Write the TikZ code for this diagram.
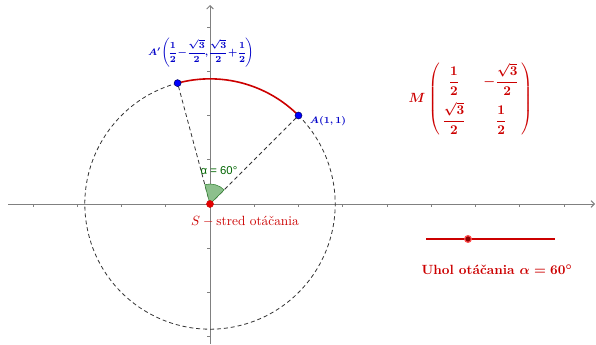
\documentclass[tikz,border=0pt]{standalone}
\usepackage{amsmath}
\usepackage{fontspec}
\newfontfamily\labelsans{Liberation Sans}
\usetikzlibrary{arrows.meta}
\definecolor{geored}{RGB}{204,0,0}
\definecolor{geoblue}{RGB}{0,0,255}
\definecolor{labelblue}{RGB}{0,0,200}
\definecolor{axisgray}{RGB}{128,128,128}
\definecolor{darkgreen}{RGB}{0,100,0}
\definecolor{anglefill}{RGB}{140,192,140}
\definecolor{darkred}{RGB}{140,0,0}
\tikzset{
  axis/.style={draw=axisgray, line width=0.7pt},
  tick/.style={draw=axisgray, line width=0.6pt},
  dashline/.style={draw=black!80, line width=0.6pt, dash pattern=on 3pt off 2.2pt},
  redarc/.style={draw=geored, line width=1.2pt},
  bluept/.style={circle, fill=geoblue, draw=black!60!blue, line width=0.4pt, inner sep=0pt, minimum size=5.2pt},
  redpt/.style={circle, fill=red!90!black, draw=geored, line width=0.4pt, inner sep=0pt, minimum size=5.2pt},
  sliderpt/.style={circle, fill=darkred, draw=red!70, line width=0.9pt, inner sep=0pt, minimum size=5pt},
  bluelabel/.style={text=labelblue, font=\fontsize{7.3}{8}\selectfont\boldmath\bfseries, inner sep=0pt},
  redlabel/.style={text=geored, inner sep=0pt},
  anglelabel/.style={text=darkgreen, font=\labelsans\fontsize{8.5}{10}\selectfont, inner sep=0pt}
}
\begin{document}
\begin{tikzpicture}[x=0.75pt,y=0.75pt]
\useasboundingbox (0,0) rectangle (596,344);
% axes
\coordinate (xl) at (8,140);
\coordinate (xr) at (595,140);
\coordinate (yb) at (210,0);
\coordinate (yt) at (210,339);
\draw[axis,-{Straight Barb[length=2.5pt,width=5pt]}] (xl) -- (xr);
\draw[axis,-{Straight Barb[length=2.5pt,width=5pt]}] (yb) -- (yt);
\foreach \i in {-4,-3,-2,-1,1,2,3,4,5,6,7,8}
  \draw[tick] (210+44.25*\i,140) -- ++(0,-3);
\foreach \j in {-3,-2,-1,1,2,3,4}
  \draw[tick] (210,140+44.25*\j) -- ++(-3,0);
% key points
\coordinate (S) at (210,140);
\coordinate (Ac) at (298.5,228.5);
\coordinate (Apc) at (177.6,260.9);
% dashed circle and segments
\draw[dashline] (Apc) arc[start angle=105, end angle=405, radius=125.16];
\draw[dashline] (S) -- (Ac);
\draw[dashline] (S) -- (Apc);
% angle sector
\filldraw[fill=anglefill, draw=darkgreen!80, line width=0.4pt] (S) -- ++(45:20) arc[start angle=45, end angle=105, radius=20] -- cycle;
\node[anglelabel] (alpha) at (219,173) {α = 60°};
% red arc
\draw[redarc] (Ac) arc[start angle=45, end angle=105, radius=125.16];
% points
\node[bluept] (A) at (Ac) {};
\node[bluept] (Ap) at (Apc) {};
\node[redpt] (Sp) at (S) {};
% labels
\node[bluelabel] (Alab) at (328,223) {$A(1,1)$};
\node[bluelabel] (Aplab) at (201,291) {\nulldelimiterspace=0pt\medmuskip=2.5mu$A'\!\left(\dfrac{1}{2}-\dfrac{\sqrt{3}}{2},\dfrac{\sqrt{3}}{2}+\dfrac{1}{2}\right)$};
\node[redlabel] (Slab) at (245,123) {$S-\text{stred otáčania}$};
% matrix
\node[redlabel, font=\boldmath\bfseries] (M) at (471,245) {$M\begin{pmatrix}\,\dfrac{1}{2} & \;-\dfrac{\sqrt{3}}{2}\,\\[9pt] \,\dfrac{\sqrt{3}}{2} & \;\dfrac{1}{2}\,\end{pmatrix}$};
% slider
\coordinate (sl) at (426,105);
\coordinate (sr) at (555,105);
\draw[draw=geored, line width=1.1pt] (sl) -- (sr);
\node[sliderpt] (slp) at (468,105) {};
\node[redlabel, font=\boldmath\bfseries] (ulab) at (497,74) {Uhol otáčania $\alpha=60^\circ$};
\end{tikzpicture}
\end{document}
